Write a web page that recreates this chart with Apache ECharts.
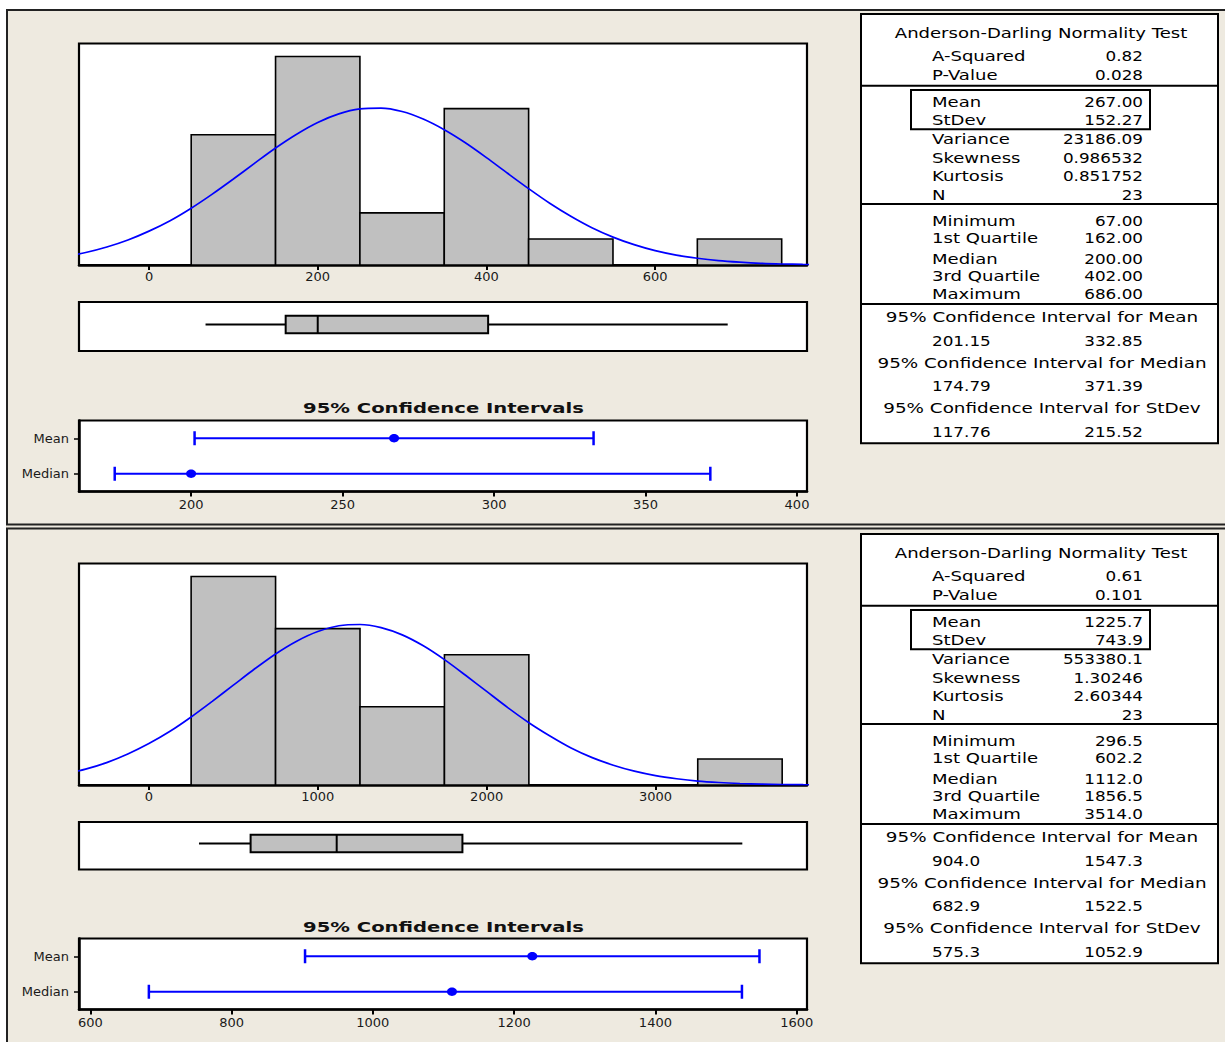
<!DOCTYPE html>
<html><head><meta charset="utf-8">
<script src="https://cdn.jsdelivr.net/npm/echarts@6/dist/echarts.min.js"></script>
<style>html,body{margin:0;padding:0;background:#fff;}#c{width:1225px;height:1042px;}</style>
</head><body><div id="c"></div>
<script>
// ---------------- DATA ----------------
// Histograms (bin start, counts)
const binWidthTop = 100;
const binStartsTop = [50, 150, 250, 350, 450, 550, 650];
const countsTop = [5, 8, 2, 6, 1, 0, 1];
const binWidthBottom = 500;
const binStartsBottom = [250, 750, 1250, 1750, 2250, 2750, 3250];
const countsBottom = [8, 6, 3, 5, 0, 0, 1];

// Fitted normal curves
const curveXTop = [-100, -75, -50, -25, 0, 25, 50, 75, 100, 125, 150, 175, 200, 225, 250, 275, 300, 325, 350, 375,
  400, 425, 450, 475, 500, 525, 550, 575, 600, 625, 650, 675, 700, 725, 750, 775, 800];
const curveYTop = [0.33, 0.48, 0.69, 0.96, 1.30, 1.70, 2.18, 2.72, 3.30, 3.90, 4.49, 5.02, 5.47, 5.80, 5.99, 6.02, 5.89, 5.60, 5.19, 4.69,
  4.12, 3.52, 2.93, 2.37, 1.87, 1.43, 1.07, 0.78, 0.55, 0.38, 0.26, 0.17, 0.11, 0.065, 0.039, 0.023, 0.013];
const curveXBottom = [-500, -375, -250, -125, 0, 125, 250, 375, 500, 625, 750, 875, 1000, 1125, 1250, 1375, 1500, 1625, 1750, 1875,
  2000, 2125, 2250, 2375, 2500, 2625, 2750, 2875, 3000, 3125, 3250, 3375, 3500, 3625, 3750, 3875, 4000];
const curveYBottom = [0.42, 0.61, 0.86, 1.19, 1.59, 2.06, 2.61, 3.21, 3.83, 4.45, 5.03, 5.52, 5.89, 6.11, 6.16, 6.04, 5.76, 5.34, 4.81, 4.21,
  3.59, 2.97, 2.39, 1.88, 1.42, 1.05, 0.76, 0.53, 0.36, 0.24, 0.15, 0.095, 0.058, 0.034, 0.020, 0.011, 0.006];

// Tick labels
const histTicksTop = [0, 200, 400, 600];
const histTicksBottom = [0, 1000, 2000, 3000];
const ciTicksTop = [200, 250, 300, 350, 400];
const ciTicksBottom = [600, 800, 1000, 1200, 1400, 1600];
const ciCategories = ['Median', 'Mean'];

// Summary statistics
const statLabels = ['A-Squared', 'P-Value', 'Mean', 'StDev', 'Variance', 'Skewness', 'Kurtosis', 'N',
  'Minimum', '1st Quartile', 'Median', '3rd Quartile', 'Maximum'];
const statsTop = ['0.82', '0.028', '267.00', '152.27', '23186.09', '0.986532', '0.851752', '23',
  '67.00', '162.00', '200.00', '402.00', '686.00'];
const statsBottom = ['0.61', '0.101', '1225.7', '743.9', '553380.1', '1.30246', '2.60344', '23',
  '296.5', '602.2', '1112.0', '1856.5', '3514.0'];
const ciTitles = ['95% Confidence Interval for Mean', '95% Confidence Interval for Median', '95% Confidence Interval for StDev'];
const ciTop = [['201.15', '332.85'], ['174.79', '371.39'], ['117.76', '215.52']];
const ciBottom = [['904.0', '1547.3'], ['682.9', '1522.5'], ['575.3', '1052.9']];
const tableTitle = 'Anderson-Darling Normality Test';
const ciPlotTitle = '95% Confidence Intervals';

// ---------------- CHART ----------------
const FONT = '"DejaVu Sans", Verdana, sans-serif';
const BLUE = '#0000FF';
const GREY = '#C0C0C0';

function histData(starts, counts, w) {
  return starts.map((s, i) => [s, s + w, counts[i]]).filter(d => d[2] > 0);
}
function fiveNum(stats) { return [8, 9, 10, 11, 12].map(i => Number(stats[i])); }
function ciData(stats, ci) {
  return [
    [1, Number(ci[0][0]), Number(ci[0][1]), Number(stats[2])],   // Mean
    [0, Number(ci[1][0]), Number(ci[1][1]), Number(stats[10])]   // Median
  ];
}

function histRender(params, api) {
  const lo = api.value(0), hi = api.value(1), n = api.value(2);
  const p1 = api.coord([lo, n]), p2 = api.coord([hi, 0]);
  return { type: 'rect', shape: { x: p1[0], y: p1[1], width: p2[0] - p1[0], height: p2[1] - p1[1] },
    style: { fill: GREY, stroke: '#000', lineWidth: 1.6 } };
}
function boxRender(params, api) {
  const v = [0, 1, 2, 3, 4].map(i => api.value(i));
  const p = v.map(x => api.coord([x, 0.55]));
  const y = Math.round(p[0][1]) + 0.5, h = 17.4;
  return { type: 'group', children: [
    { type: 'line', shape: { x1: p[0][0], y1: y, x2: p[1][0], y2: y }, style: { stroke: '#000', lineWidth: 2 } },
    { type: 'line', shape: { x1: p[3][0], y1: y, x2: p[4][0], y2: y }, style: { stroke: '#000', lineWidth: 2 } },
    { type: 'rect', shape: { x: p[1][0], y: y - h / 2, width: p[3][0] - p[1][0], height: h },
      style: { fill: GREY, stroke: '#000', lineWidth: 2 } },
    { type: 'line', shape: { x1: p[2][0], y1: y - h / 2, x2: p[2][0], y2: y + h / 2 }, style: { stroke: '#000', lineWidth: 2 } }
  ] };
}
function ciRender(params, api) {
  const cat = api.value(0);
  const a = api.coord([api.value(1), cat]), b = api.coord([api.value(2), cat]), c = api.coord([api.value(3), cat]);
  const y = a[1];
  return { type: 'group', children: [
    { type: 'line', shape: { x1: a[0], y1: y, x2: b[0], y2: y }, style: { stroke: BLUE, lineWidth: 2 } },
    { type: 'line', shape: { x1: a[0], y1: y - 7, x2: a[0], y2: y + 7 }, style: { stroke: BLUE, lineWidth: 2.5 } },
    { type: 'line', shape: { x1: b[0], y1: y - 7, x2: b[0], y2: y + 7 }, style: { stroke: BLUE, lineWidth: 2.5 } },
    { type: 'ellipse', shape: { cx: c[0], cy: y, rx: 5, ry: 4.2 }, style: { fill: BLUE } }
  ] };
}

function xAxis(grid, min, max, ticks, margin) {
  if (!ticks) return { type: 'value', gridIndex: grid, min: min, max: max, show: false, splitLine: { show: false } };
  return { type: 'value', gridIndex: grid, min: min, max: max,
    axisLine: { show: true, onZero: false, lineStyle: { color: '#000', width: 2.5 } },
    axisTick: { show: true, customValues: ticks, length: 5, lineStyle: { color: '#000', width: 2 } },
    axisLabel: { show: true, customValues: ticks, margin: margin, color: '#1a1a1a', fontSize: 13, fontFamily: FONT,
      formatter: v => String(v) },
    splitLine: { show: false } };
}
function catAxis(grid) {
  return { type: 'category', gridIndex: grid, data: ciCategories,
    axisLine: { show: true, lineStyle: { color: '#000', width: 2.5 } },
    axisTick: { show: true, alignWithLabel: true, length: 5, lineStyle: { color: '#000', width: 1.5 } },
    axisLabel: { margin: 10, color: '#1a1a1a', fontSize: 13, fontFamily: FONT },
    splitLine: { show: false } };
}
function grid(top, height) {
  return { left: 79, top: top, width: 728, height: height, show: true, backgroundColor: '#fff',
    borderColor: '#000', borderWidth: 2.2, containLabel: false };
}

function tableGraphics(off, stats, ci) {
  const els = [];
  const rowY = [56, 75.7, 102.3, 120.7, 139, 158.3, 176.7, 195, 221, 238.7, 259, 276, 294.3];
  const ciRowY = [[317.3, 341], [363.3, 386.7], [408.7, 432.7]];
  const sepY = [85.7, 204, 304];
  els.push({ type: 'rect', shape: { x: 861, y: 14 + off, width: 357, height: 429.3 },
    style: { fill: '#fff', stroke: '#000', lineWidth: 2 } });
  sepY.forEach(y => els.push({ type: 'line', shape: { x1: 861, y1: y + off, x2: 1218, y2: y + off },
    style: { stroke: '#000', lineWidth: 2 } }));
  els.push({ type: 'rect', shape: { x: 911, y: 90 + off, width: 239, height: 39.3 },
    style: { fill: 'none', stroke: '#000', lineWidth: 2 } });
  const txt = (t, x, y, align, sx) => ({ type: 'text', x: x, y: y + off, scaleX: sx, z: 10,
    style: { text: t, fill: '#000', font: '14px ' + FONT, align: align, verticalAlign: 'middle' } });
  els.push(txt(tableTitle, 1041, 33.3, 'center', 1.29));
  statLabels.forEach((l, i) => {
    els.push(txt(l, 932, rowY[i], 'left', 1.29));
    els.push(txt(stats[i], 1143, rowY[i], 'right', 1.2));
  });
  ciTitles.forEach((t, i) => {
    els.push(txt(t, 1042, ciRowY[i][0], 'center', 1.31));
    els.push(txt(ci[i][0], 932, ciRowY[i][1], 'left', 1.2));
    els.push(txt(ci[i][1], 1143, ciRowY[i][1], 'right', 1.2));
  });
  return els;
}

const graphics = [
  { type: 'rect', shape: { x: 0, y: 0, width: 1225, height: 9 }, style: { fill: '#fff' } },
  { type: 'rect', shape: { x: 0, y: 0, width: 6, height: 1042 }, style: { fill: '#fff' } },
  { type: 'rect', shape: { x: 7, y: 10, width: 1240, height: 514.5 }, style: { fill: 'none', stroke: '#222', lineWidth: 2 } },
  { type: 'rect', shape: { x: 7, y: 528.5, width: 1240, height: 530 }, style: { fill: 'none', stroke: '#222', lineWidth: 2 } },
  { type: 'text', x: 443.5, y: 408.3, scaleX: 1.4, style: { text: ciPlotTitle, fill: '#111', font: 'bold 14px ' + FONT, align: 'center', verticalAlign: 'middle' } },
  { type: 'text', x: 443.5, y: 926.7, scaleX: 1.4, style: { text: ciPlotTitle, fill: '#111', font: 'bold 14px ' + FONT, align: 'center', verticalAlign: 'middle' } }
].concat(tableGraphics(0, statsTop, ciTop), tableGraphics(520, statsBottom, ciBottom));

const option = {
  animation: false,
  backgroundColor: '#EEEAE0',
  graphic: { elements: graphics },
  grid: [grid(43.5, 221.5), grid(302, 49), grid(420.5, 71), grid(563.5, 221.5), grid(822, 47.5), grid(938.5, 71)],
  xAxis: [
    xAxis(0, -83, 780, histTicksTop, 5),
    xAxis(1, -83, 780, null),
    xAxis(2, 163, 403.3, ciTicksTop, 6),
    xAxis(3, -414, 3897, histTicksBottom, 5),
    xAxis(4, -414, 3897, null),
    xAxis(5, 584, 1614.6, ciTicksBottom, 6)
  ],
  yAxis: [
    { type: 'value', gridIndex: 0, min: 0, max: 8.5, show: false, splitLine: { show: false } },
    { type: 'value', gridIndex: 1, min: 0, max: 1, show: false, splitLine: { show: false } },
    catAxis(2),
    { type: 'value', gridIndex: 3, min: 0, max: 8.5, show: false, splitLine: { show: false } },
    { type: 'value', gridIndex: 4, min: 0, max: 1, show: false, splitLine: { show: false } },
    catAxis(5)
  ],
  series: [
    { type: 'custom', xAxisIndex: 0, yAxisIndex: 0, renderItem: histRender, encode: { x: [0, 1], y: 2 },
      data: histData(binStartsTop, countsTop, binWidthTop), z: 2, silent: true },
    { type: 'line', xAxisIndex: 0, yAxisIndex: 0, data: curveXTop.map((x, i) => [x, curveYTop[i]]),
      smooth: 0.3, showSymbol: false, clip: true, lineStyle: { color: BLUE, width: 1.7 }, z: 5, silent: true },
    { type: 'custom', xAxisIndex: 1, yAxisIndex: 1, renderItem: boxRender, encode: { x: [0, 1, 2, 3, 4] },
      data: [fiveNum(statsTop)], z: 2, silent: true },
    { type: 'custom', xAxisIndex: 2, yAxisIndex: 2, renderItem: ciRender, encode: { x: [1, 2, 3], y: 0 },
      data: ciData(statsTop, ciTop), z: 2, silent: true },
    { type: 'custom', xAxisIndex: 3, yAxisIndex: 3, renderItem: histRender, encode: { x: [0, 1], y: 2 },
      data: histData(binStartsBottom, countsBottom, binWidthBottom), z: 2, silent: true },
    { type: 'line', xAxisIndex: 3, yAxisIndex: 3, data: curveXBottom.map((x, i) => [x, curveYBottom[i]]),
      smooth: 0.3, showSymbol: false, clip: true, lineStyle: { color: BLUE, width: 1.7 }, z: 5, silent: true },
    { type: 'custom', xAxisIndex: 4, yAxisIndex: 4, renderItem: boxRender, encode: { x: [0, 1, 2, 3, 4] },
      data: [fiveNum(statsBottom)], z: 2, silent: true },
    { type: 'custom', xAxisIndex: 5, yAxisIndex: 5, renderItem: ciRender, encode: { x: [1, 2, 3], y: 0 },
      data: ciData(statsBottom, ciBottom), z: 2, silent: true }
  ]
};
const chart = echarts.init(document.getElementById('c'), null, { renderer: 'svg' });
chart.setOption(option);
</script>
</body></html>
